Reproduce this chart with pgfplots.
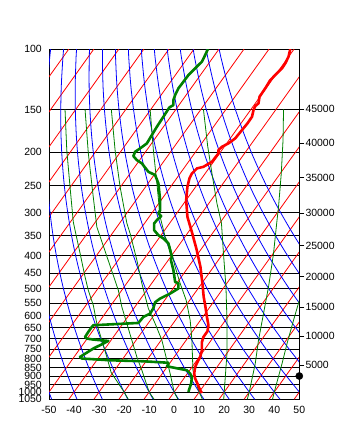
\documentclass[border=0pt]{standalone}
\usepackage{fontspec}
\setmainfont{Liberation Sans}
\usepackage{pgfplots}
\usepackage{pgfplotstable}
\pgfplotsset{compat=1.18}

% pressure levels used to trace the reference curves
\pgfplotstableread{
p
100
105
110
120
130
140
150
165
180
200
220
240
260
280
300
325
350
375
400
430
460
500
540
580
620
660
700
750
800
850
900
950
1000
1050
}\plev

\pgfplotstableread{
p
100
1050
}\pends

% temperature (skewed x, pressure hPa)
\pgfplotstableread{
x p
46.4 100
45.7 105.3
44.4 110.1
43.1 113.8
41.1 117.7
38.4 123.2
36.4 130.2
34.1 137.8
33.7 144.0
32.4 146.7
31.7 150.7
31.1 157.6
29.3 164.7
27.1 172.3
24.4 182.2
21.7 188.4
19.1 192.8
17.7 197.1
17.7 201.5
15.1 213.2
11.7 220.5
9.1 222.9
7.1 230.5
6.1 238.4
5.3 252.2
4.8 275.8
5.3 308.5
7.0 340
9.0 385
10.5 431.7
11.3 482.6
11.8 528.1
12.4 558.4
13.1 604.0
13.7 638.7
13.3 665.0
11.7 690.9
11.1 714.5
11.1 755.4
10.4 790.2
9.3 817.2
8.4 845.1
8.0 883.4
8.4 913.6
9.3 944.8
10.4 988.3
11.1 1006.5
}\tempdata

% dew point
\pgfplotstableread{
x p
13.5 100
12.4 104.1
11.1 108.9
9.7 111.4
7.7 115.2
5.7 119.1
3.7 124.6
1.7 130.2
0.4 136.2
-0.3 140.9
-0.3 145.7
-1.9 148.0
-4.3 157.6
-6.9 168.5
-8.9 178.2
-10.9 188.4
-13.6 194.9
-15.6 199.4
-16.3 205.2
-14.9 210.8
-12.9 215.5
-10.3 228.0
-7.6 233.1
-6.3 246.5
-5.6 275.8
-5.6 295.0
-6.3 301.6
-5.2 307.1
-6.9 315.4
-8.0 322.5
-8.0 337.4
-6.3 348.9
-4.3 356.7
-2.3 368.9
-1.6 385.9
-0.9 403.7
-1.3 412.7
-0.3 441.4
0.4 477.5
1.7 482.6
1.7 499.1
-1.6 516.2
-5.6 533.8
-7.6 547.2
-8.3 569.7
-9.6 590.4
-12.3 604.0
-14.3 628.9
-32.3 638.7
-32.9 646.0
-34.3 668.1
-35.6 690.9
-34.9 698.4
-32.3 703.1
-26.3 709.7
-28.3 722.2
-32.3 746.9
-37.6 790.2
-36.9 798.7
-25.6 807.9
-12.3 813.4
-2.3 821.6
-2.3 829.9
-2.9 841.2
-0.3 848.5
5.1 864.1
6.4 883.4
7.1 903.8
6.8 944.8
6.1 977.1
5.7 999.8
}\dewdata

\definecolor{sgreen}{RGB}{0,128,0}
\definecolor{sred}{RGB}{255,0,0}
\definecolor{sblue}{RGB}{0,0,255}

\begin{document}
\begin{tikzpicture}
\useasboundingbox (0,0) rectangle (341bp,432bp);
\begin{axis}[
  at={(49bp,32.7bp)}, anchor=south west,
  scale only axis, width=250.3bp, height=350.3bp,
  xmin=-50, xmax=50, ymin=100, ymax=1050,
  ymode=log, y dir=reverse,
  xtick={-50,-40,-30,-20,-10,0,10,20,30,40,50},
  xticklabels={-50,-40,-30,-20,-10,0,10,20,30,40,50},
  ytick={100,150,200,250,300,350,400,450,500,550,600,650,700,750,800,850,900,950,1000,1050},
  yticklabels={100,150,200,250,300,350,400,450,500,550,600,650,700,750,800,850,900,950,1000,1050},
  minor ytick={}, minor xtick={},
  major tick length=0pt,
  ymajorgrids, grid style={black, line width=0.9bp},
  axis line style={black, line width=0.9bp},
  tick label style={font=\fontsize{10.5}{12}\selectfont, inner sep=0pt},
  xticklabel style={anchor=base, yshift=-14bp},
  yticklabel style={anchor=east, xshift=-7bp},
  clip=true,
]
% isotherms
\pgfplotsinvokeforeach{-140,-130,...,50}{
  \addplot[sred, line width=0.8bp] table[x expr={#1+42.53*ln(1000/\thisrow{p})}, y=p] {\pends};
}
% dry adiabats
\pgfplotsinvokeforeach{-50,-40,...,100}{
  \addplot[sblue, line width=0.8bp, smooth] table[x expr={(#1+273.15)*(\thisrow{p}/1000)^0.286-273.15+42.53*ln(1000/\thisrow{p})}, y=p] {\plev};
}
% saturated adiabats
\addplot[sgreen, line width=0.8bp] coordinates {(-18.3,1050) (-20,1000) (-25.2,875.8) (-26.9,790.2) (-28.9,706.4) (-30.9,631.4) (-32.3,558.4) (-34.3,504.9) (-35.6,461.7) (-37.6,393.7) (-39.6,337.4) (-40.3,319.1) (-41.6,252.2) (-42.9,197.1) (-43.6,150)};
\addplot[sgreen, line width=0.8bp] coordinates {(-8,1050) (-10,1000) (-12.9,864.1) (-14.9,790.2) (-16.9,706.4) (-18.9,631.4) (-20.9,564.8) (-22.3,504.9) (-27,400) (-30.9,329.9) (-32.5,263.1) (-34.3,201.1) (-35.6,150)};
\addplot[sgreen, line width=0.8bp] coordinates {(1.5,1050) (0,1000) (-1.6,883.4) (-2.9,807.9) (-4.9,706.4) (-7.6,631.4) (-10.3,570.9) (-12.9,482.6) (-14.9,412.7) (-17.6,344.9) (-18.9,321.9) (-21.6,252.2) (-23.6,197.1) (-25.1,150)};
\addplot[sgreen, line width=0.8bp] coordinates {(11.3,1050) (10,1000) (9.1,955.7) (7.5,864.1) (7.1,706.4) (6.4,617.5) (4.8,539.9) (2.4,482.6) (0.4,431.7) (-1.6,377.4) (-3.6,352.9) (-5.6,308.5) (-6.9,246.5) (-8.3,197.1) (-9.6,150)};
\addplot[sgreen, line width=0.8bp] coordinates {(19.8,1050) (20,1000) (21.1,772.5) (21.1,617.5) (20.7,493.8) (19.7,394.5) (18.9,322) (17.1,282) (15.1,230.5) (13.4,192) (11.7,150)};
\addplot[sgreen, line width=0.8bp] coordinates {(29.2,1050) (30,1000) (32.4,826) (33.7,706.4) (35.7,590.4) (37.7,493.8) (39.7,394.5) (41.1,315.4) (41.7,288.5) (42.8,230.5) (43.5,184.3) (43.7,150)};
\addplot[sgreen, line width=0.8bp] coordinates {(39.3,1050) (40,1000) (43.1,826) (45.1,722.2) (47.7,617.5) (50.4,528.1) (52,480)};
% sounding
\addplot[sgreen, line width=2.6bp, line join=round] table[x=x, y=p] {\dewdata};
\addplot[sred, line width=2.6bp, line join=round] table[x=x, y=p] {\tempdata};
\end{axis}
\begin{axis}[
  at={(49bp,32.7bp)}, anchor=south west,
  scale only axis, width=250.3bp, height=350.3bp,
  xmin=-50, xmax=50, ymin=100, ymax=1050,
  ymode=log, y dir=reverse,
  hide x axis,
  axis y line*=right,
  axis line style={black, line width=0.9bp},
  ytick={835.6,687.6,564.9,461.7,374.9,301.0,237.4,188.4,149.9},
  yticklabels={5000,10000,15000,20000,25000,30000,35000,40000,45000},
  minor ytick={},
  tick align=outside, major tick length=5bp,
  tick style={black, line width=0.9bp},
  tick label style={font=\fontsize{10.5}{12}\selectfont, inner sep=0pt},
  yticklabel style={anchor=west, xshift=1bp},
  clip=false,
]
\addplot[only marks, mark=*, mark size=3.6bp, black] coordinates {(50,898)};
\end{axis}
\end{tikzpicture}
\end{document}
